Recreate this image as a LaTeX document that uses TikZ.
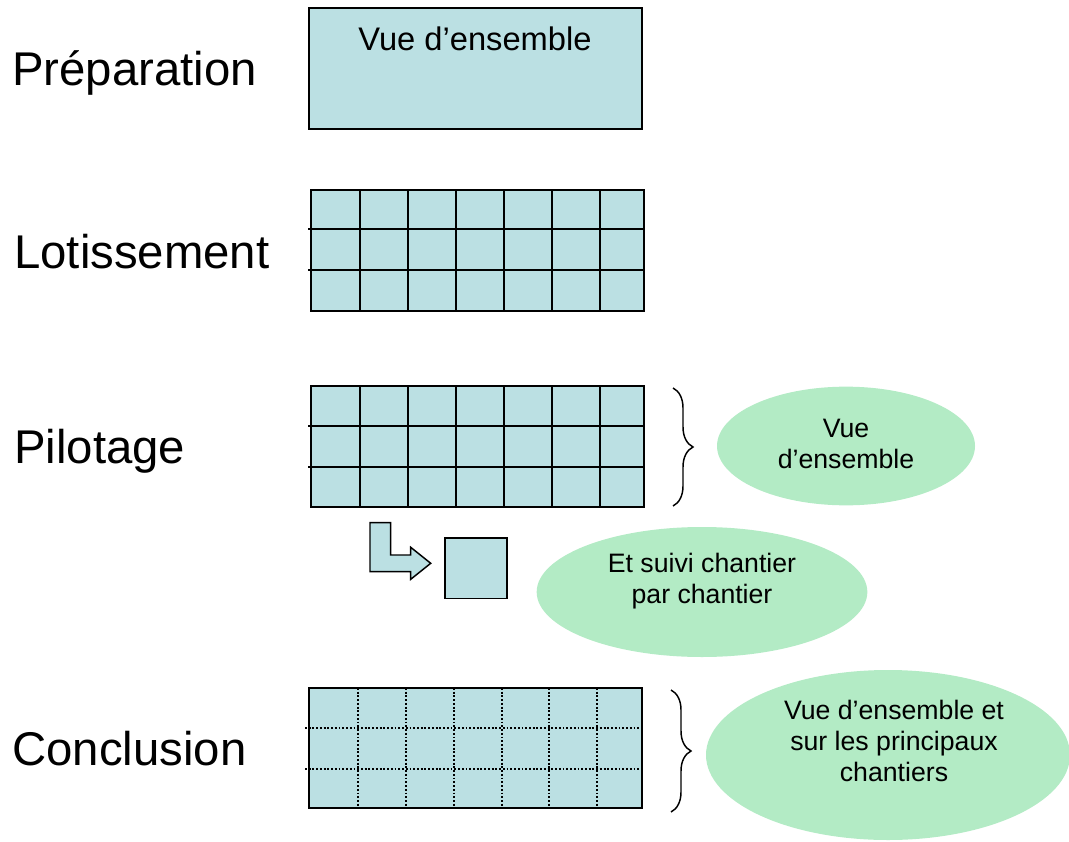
\documentclass[tikz,border=0pt]{standalone}
\usepackage{fontspec}
\setmainfont{Liberation Sans}
\usetikzlibrary{shapes.geometric,decorations.pathreplacing}
\definecolor{cellfill}{HTML}{BBE0E3}
\definecolor{ovalfill}{HTML}{B3EBC5}
\tikzset{
  phase/.style={anchor=base west,inner sep=0pt,font=\fontsize{35.5}{40}\selectfont},
  block/.style={draw=black,fill=cellfill,line width=1.2pt},
  gridline/.style={draw=black,line width=1.5pt},
  dotline/.style={draw=black,line width=1.2pt,dash pattern=on 1.4pt off 1.4pt},
  oval/.style={ellipse,fill=ovalfill,draw=none,inner sep=0pt},
  ovaltext/.style={align=center,inner sep=0pt,font=\fontsize{20}{23}\selectfont},
  bracket/.style={draw=black,line width=1.1pt,decorate,decoration={brace,amplitude=15}},
}
\begin{document}
\begin{tikzpicture}[x=0.75pt,y=-0.75pt]
\useasboundingbox (0,0) rectangle (1069,841);

% phase names
\node[phase] (prep) at (12,86) {Préparation};
\node[phase] (lot) at (14,268) {Lotissement};
\node[phase] (pil) at (14,463) {Pilotage};
\node[phase] (conc) at (12,765) {Conclusion};

% preparation: one overall block
\draw[block] (309,8) rectangle (642,129);
\node[anchor=base,inner sep=0pt,font=\fontsize{24.5}{28}\selectfont] (prepview) at (475,51) {Vue d’ensemble};

% lotissement: block split into 7 x 3 lots
\draw[block] (311,190) rectangle (644,311);
\foreach \x in {360,408,456,504,552,600} \draw[gridline] (\x,190) -- (\x,311);
\foreach \y in {229,270} \draw[gridline] (308,\y) -- (644,\y);

% pilotage: same split, with a brace
\draw[block] (311,386) rectangle (644,507);
\foreach \x in {360,408,456,504,552,600} \draw[gridline] (\x,386) -- (\x,507);
\foreach \y in {426,467} \draw[gridline] (308,\y) -- (644,\y);
\coordinate (pbtop) at (673,388);
\coordinate (pbbot) at (673,506);
\draw[bracket] (pbtop) -- (pbbot);

\node[oval,minimum width=193.5pt,minimum height=89pt] (ov1) at (846,446) {};
\node[ovaltext] (ov1t) at (846,444) {Vue\\d’ensemble};

% bent arrow towards one single lot
\draw[block,line width=1.1pt] (370,522.7) -- (390.7,522.7) -- (390.7,555) -- (410.7,555) -- (410.7,547.3)
  -- (430.7,563.3) -- (410.7,579.3) -- (410.7,571.7) -- (370,571.7) -- cycle;
\draw[block] (445,537.7) rectangle (506.7,598.3);

\node[oval,minimum width=248pt,minimum height=97.5pt] (ov2) at (702,592) {};
\node[ovaltext] (ov2t) at (702,581) {Et suivi chantier\\par chantier};

% conclusion: block with dotted split, with a brace
\draw[block] (309,688) rectangle (642,808);
\foreach \x in {358,406,454,502,549,597} \draw[dotline] (\x,688) -- (\x,808);
\foreach \y in {728,769} \draw[dotline] (305,\y) -- (642,\y);
\draw[block,fill=none] (309,688) rectangle (642,808);
\coordinate (cbtop) at (671,690);
\coordinate (cbbot) at (671,812);
\draw[bracket] (cbtop) -- (cbbot);

\node[oval,minimum width=273pt,minimum height=127.5pt] (ov3) at (888,755) {};
\node[ovaltext] (ov3t) at (894,741) {Vue d’ensemble et\\sur les principaux\\chantiers};
\end{tikzpicture}
\end{document}
